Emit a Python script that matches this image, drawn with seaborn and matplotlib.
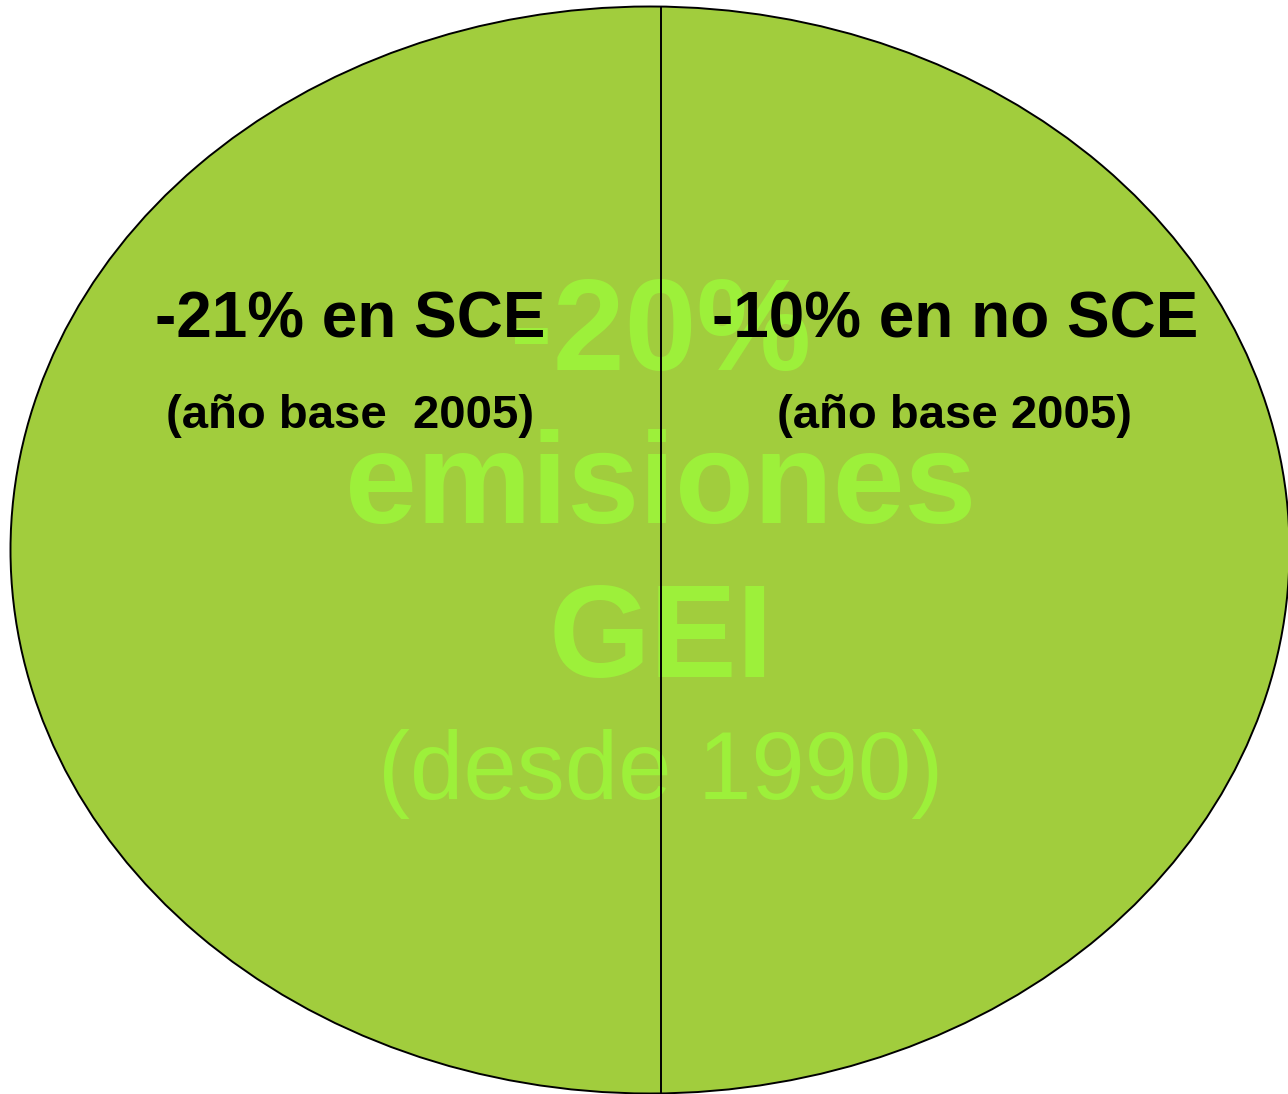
import matplotlib
matplotlib.use("Agg")
import matplotlib.pyplot as plt
from matplotlib.patches import Ellipse
import seaborn as sns
import pandas as pd

# ---- data ----
center_lines = ["-20%", "emisiones", "GEI", "(desde 1990)"]
center_weights = ["bold", "bold", "bold", "normal"]
left_lines = ["-21% en SCE", "(año base  2005)"]
right_lines = ["-10% en no SCE", "(año base 2005)"]
divider_x = [661, 661]
divider_y = [7, 1094]

sns.set_theme(style="white")
plt.rcParams["font.family"] = ["Liberation Sans", "DejaVu Sans"]

W, H = 1288, 1094
fig = plt.figure(figsize=(W / 100, H / 100), dpi=100)
ax = fig.add_axes([0, 0, 1, 1])

fill = "#A1CD3D"
green_txt = "#9DF03A"

ell = Ellipse((650, 550), 1279, 1087, facecolor=fill, edgecolor="black",
              linewidth=1.4, zorder=1)
ax.add_patch(ell)

# central green text
c_y = [370, 523, 677, 799]
c_size = [93, 93, 94, 69]
for txt, w, y, s in zip(center_lines, center_weights, c_y, c_size):
    ax.text(661, y, txt, ha="center", va="baseline", fontsize=s,
            fontweight=w, color=green_txt, zorder=2)

# divider line
df = pd.DataFrame({"x": divider_x, "y": divider_y})
sns.lineplot(data=df, x="x", y="y", ax=ax, color="black", linewidth=1.4,
             sort=False, estimator=None, zorder=3)
ax.set_xlim(0, W)
ax.set_ylim(H, 0)
ax.axis("off")

# black labels
for lines, cx in ((left_lines, 350), (right_lines, 955)):
    ax.text(cx, 338, lines[0], ha="center", va="baseline", fontsize=46,
            fontweight="bold", color="black", zorder=4)
    ax.text(cx, 428, lines[1], ha="center", va="baseline", fontsize=34,
            fontweight="bold", color="black", zorder=4)

fig.savefig("out.png", dpi=100, facecolor="white")
